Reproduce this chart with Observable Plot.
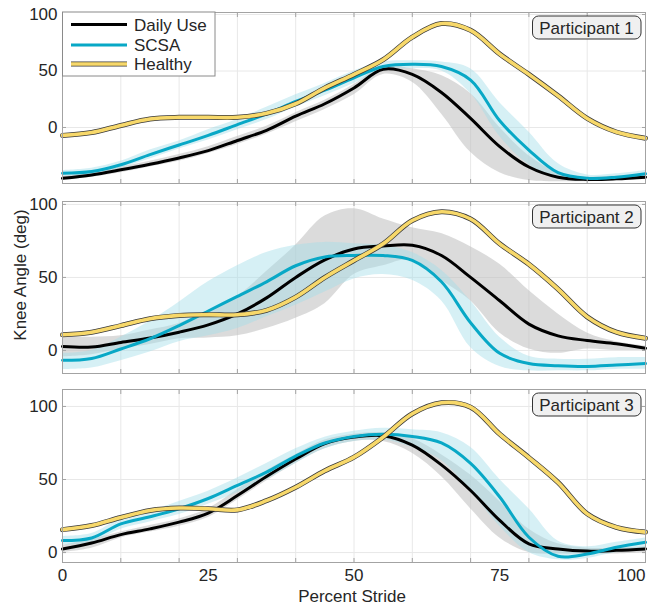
<!DOCTYPE html>
<html><head><meta charset="utf-8">
<script src="https://cdn.jsdelivr.net/npm/d3@7"></script>
<script src="https://cdn.jsdelivr.net/npm/@observablehq/plot@0.6"></script>
<style>
body{margin:0;background:#fff;}
#wrap{position:relative;width:654px;height:607px;font-family:"Liberation Sans",Arial,sans-serif;}
#wrap svg{position:absolute;left:0;}
</style></head><body><div id="wrap"></div>
<script>
// ---- data ----
const stride = [0,5,10,15,20,25,30,35,40,45,50,55,60,65,70,75,80,85,90,95,100];
const gridTicks = [0,10,20,30,40,50,60,70,80,90,100];
const xLabelTicks = [0,25,50,75];
const xLastTick = [100];
const yTicks = [0,50,100];
const seriesNames = ["Daily Use","SCSA","Healthy"];
const panelNames = ["Participant 1","Participant 2","Participant 3"];
const axisTitleX = "Percent Stride";
const axisTitleY = "Knee Angle (deg)";

const p1Daily   = [-45,-42,-37.5,-32.6,-27,-20.5,-11.5,-2.5,10,21,35,51.5,47,31,8,-17,-35,-44,-46,-45.5,-44];
const p1DailyLo = [-47,-44,-40,-35,-30,-23,-15,-6,5,16,29,47,40,12,-22,-40,-47,-48,-48,-47,-46];
const p1DailyHi = [-43,-40,-35,-30,-24,-17,-8,1,13,24,38,54,52,46,30,0,-25,-40,-44,-43,-42];
const p1Scsa    = [-40.5,-39,-33,-24,-15.5,-7,2.5,12,23,33,44,54,56,54,42,6,-20,-40,-45,-44,-41];
const p1ScsaLo  = [-43,-42,-36,-28,-19,-11,-2,7,18,28,39,50,52,50,30,-8,-33,-45,-47,-46,-43];
const p1ScsaHi  = [-38,-36,-30,-20,-12,-2,7,18,29,39,50,58,59,58,52,22,-4,-32,-42,-41,-38];
const p1Healthy = [-7,-4.5,1.8,7.5,9,9,9,12.5,21,35,47,60,80,92,86,65,47,28,8,-4,-9.5];

const p2Daily   = [2.7,2.3,5.5,8.5,12.5,17.5,25,36,50,62,69.5,71.5,72,65,50,34,18,10,6.8,4.6,1.5];
const p2DailyLo = [-4.5,-3,1,4,8,8.5,10,15,22,32,52,58,62,48,34,12,1,-2,1,0,0];
const p2DailyHi = [9,9,10,14,18.5,27,37,54,72,92,97,90,84,80,71,59,41,25,12,6,3];
const p2Scsa    = [-6.8,-5.5,1,8,17,27,37,47,58,64,65,65,61.6,47,19,-2,-9,-10.5,-11,-10,-9];
const p2ScsaLo  = [-13,-12,-7,-1,6,10,15,23,31,40,49,52,48,34,2,-11,-14,-14,-14,-13,-13];
const p2ScsaHi  = [-2,0,9,20,33,47,58,67,72,74,73,72,67,55,34,9,-4,-6,-6,-5,-5];
const p2Healthy = [10.7,12.5,17,21.7,24,24.5,24.4,27.5,36.5,50,61.6,73,89,95,90,73,59,42,23,12.5,8.4];

const p3Daily   = [2.5,6.5,12.3,16.2,20.8,27,39,52,64,74.5,79,80,73.5,60,42.5,22,6,2.5,1,1.5,2.5];
const p3DailyLo = [0,3,10,14,18,24,36,49,61,71,76,76,68,52,30,10,0,-1,-1,-1,0];
const p3DailyHi = [5,9,14,18.5,23,30,43,56,67,77,81,82,78,67,53,35,16,6,3,3,4];
const p3Scsa    = [8.2,10,19.6,24.5,30,37,46,55,66,75,79.5,81,79.5,75,61,38,10.5,-2.5,-1,3.6,7];
const p3ScsaLo  = [5,7,16,21,26,33,41,50,61,71,76,77,72,63,42,18,0,-5,-4,0,3];
const p3ScsaHi  = [11,13,23,28,35,42,51,61,71,79,83,85,84,82,72,50,30,8,4,7,10];
const p3Healthy = [15.7,18.5,24,28.8,30.5,30,29.2,35.5,44.7,56,65.3,79,95,102.5,99.5,81,65,48,26.5,17.3,14];

// ---- styling ----
const C = {daily:"#000000", scsa:"#08a8c6", healthy:"#f7d86a", outline:"#3a3a3a",
           grayBand:"#bdbdbd", cyanBand:"#a4dde8", grid:"#e8e8e8", frame:"#a3a3a3", text:"#262626"};
const curve = "catmull-rom";
const W = 654, ML = 62, MR = 9;

const panels = [
  {daily:p1Daily, dLo:p1DailyLo, dHi:p1DailyHi, scsa:p1Scsa, sLo:p1ScsaLo, sHi:p1ScsaHi, healthy:p1Healthy,
   domain:[-49.6,101.8], top:0, mt:12, mb:4, area:171, showX:false},
  {daily:p2Daily, dLo:p2DailyLo, dHi:p2DailyHi, scsa:p2Scsa, sLo:p2ScsaLo, sHi:p2ScsaHi, healthy:p2Healthy,
   domain:[-15.8,102], top:191, mt:10, mb:4, area:172, showX:false},
  {daily:p3Daily, dLo:p3DailyLo, dHi:p3DailyHi, scsa:p3Scsa, sLo:p3ScsaLo, sHi:p3ScsaHi, healthy:p3Healthy,
   domain:[-6.8,111.6], top:379, mt:10, mb:45, area:173, showX:true}
];

const wrap = document.getElementById("wrap");

panels.forEach((p, k) => {
  const rows = stride.map((x, i) => ({x, d:p.daily[i], dLo:p.dLo[i], dHi:p.dHi[i],
    s:p.scsa[i], sLo:p.sLo[i], sHi:p.sHi[i], h:p.healthy[i]}));
  const marks = [
    Plot.gridX(gridTicks, {stroke:C.grid, strokeOpacity:1}),
    Plot.gridY(yTicks, {stroke:C.grid, strokeOpacity:1}),
    Plot.areaY(rows, {x:"x", y1:"dLo", y2:"dHi", fill:C.grayBand, fillOpacity:0.55, curve}),
    Plot.areaY(rows, {x:"x", y1:"sLo", y2:"sHi", fill:C.cyanBand, fillOpacity:0.45, curve}),
    Plot.lineY(rows, {x:"x", y:"d", stroke:C.daily, strokeWidth:3, curve}),
    Plot.lineY(rows, {x:"x", y:"s", stroke:C.scsa, strokeWidth:3, curve}),
    Plot.lineY(rows, {x:"x", y:"h", stroke:C.outline, strokeWidth:5, curve}),
    Plot.lineY(rows, {x:"x", y:"h", stroke:C.healthy, strokeWidth:3.6, curve}),
    Plot.frame({stroke:C.frame}),
    Plot.axisY(yTicks, {anchor:"left", tickSize:0, tickPadding:5, label:null, fill:C.text}),
    Plot.axisY(yTicks, {anchor:"left", tickSize:-4, tickFormat:() => "", label:null, stroke:C.frame}),
    Plot.axisY(yTicks, {anchor:"right", tickSize:-4, tickFormat:() => "", label:null, stroke:C.frame}),
    Plot.axisX(gridTicks, {anchor:"bottom", tickSize:-4, tickFormat:() => "", label:null, stroke:C.frame}),
    Plot.axisX(gridTicks, {anchor:"top", tickSize:-4, tickFormat:() => "", label:null, stroke:C.frame})
  ];
  if (p.showX) {
    marks.push(Plot.axisX(xLabelTicks, {anchor:"bottom", tickSize:0, tickPadding:6, label:null, fill:C.text}));
    marks.push(Plot.axisX(xLastTick, {anchor:"bottom", tickSize:0, tickPadding:6, label:null, fill:C.text, textAnchor:"end"}));
  }
  const svg = Plot.plot({
    width: W, height: p.mt + p.area + p.mb,
    marginLeft: ML, marginRight: MR, marginTop: p.mt, marginBottom: p.mb,
    x: {domain:[0,100]},
    y: {domain:p.domain},
    style: {fontSize:"17px", fontFamily:'"Liberation Sans", Arial, sans-serif', color:C.text, background:"transparent", overflow:"visible"},
    marks
  });
  svg.style.top = p.top + "px";
  wrap.appendChild(svg);
});

// ---- overlay: titles, legend, panel tags ----
const NS = "http://www.w3.org/2000/svg";
const ov = document.createElementNS(NS, "svg");
ov.setAttribute("width", W); ov.setAttribute("height", 607);
ov.style.top = "0px"; ov.style.pointerEvents = "none";
ov.setAttribute("font-family", '"Liberation Sans", Arial, sans-serif');
ov.setAttribute("font-size", "17");
wrap.appendChild(ov);
function el(tag, attrs, text) {
  const e = document.createElementNS(NS, tag);
  for (const k in attrs) e.setAttribute(k, attrs[k]);
  if (text != null) e.textContent = text;
  ov.appendChild(e); return e;
}
// axis titles
el("text", {x:352, y:602, "text-anchor":"middle", fill:C.text}, axisTitleX);
el("text", {transform:"translate(26,275) rotate(-90)", "text-anchor":"middle", fill:C.text}, axisTitleY);
// legend
el("rect", {x:62.5, y:12, width:152.5, height:64, fill:"#fff", stroke:"#8a8a8a", "stroke-width":1});
const legY = [24.5, 45, 64];
el("line", {x1:71, x2:127, y1:legY[0], y2:legY[0], stroke:C.daily, "stroke-width":3});
el("line", {x1:71, x2:127, y1:legY[1], y2:legY[1], stroke:C.scsa, "stroke-width":3});
el("line", {x1:71, x2:127, y1:legY[2], y2:legY[2], stroke:C.outline, "stroke-width":5});
el("line", {x1:71, x2:127, y1:legY[2], y2:legY[2], stroke:C.healthy, "stroke-width":3.6});
seriesNames.forEach((n, i) => el("text", {x:134, y:legY[i] + 6, fill:C.text}, n));
// participant tags
const tagTops = [16, 205, 393];
panelNames.forEach((n, i) => {
  el("rect", {x:532.5, y:tagTops[i], width:108.5, height:23, rx:6, ry:6, fill:"#f0f0f0", stroke:"#333", "stroke-width":1});
  el("text", {x:586.5, y:tagTops[i] + 17.5, "text-anchor":"middle", fill:C.text}, n);
});
</script></body></html>
